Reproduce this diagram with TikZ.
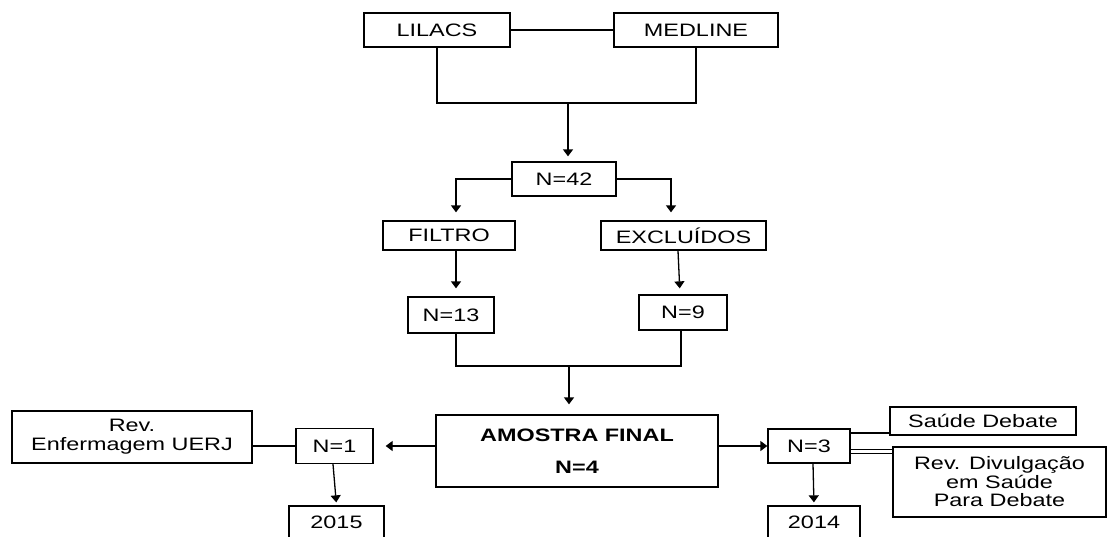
\documentclass[tikz,border=0pt]{standalone}
\usepackage{fontspec}
\setmainfont[FakeStretch=1.3]{Liberation Sans}
\usetikzlibrary{arrows.meta}
\begin{document}
\begin{tikzpicture}[x=1pt,y=-1pt,
  box/.style={draw, line width=1.3pt, inner sep=0pt, align=center,
    font=\fontsize{18}{19}\selectfont},
  ln/.style={line width=1.3pt},
  arr/.style={line width=1.3pt, -{Triangle[width=10pt,length=7pt]}}]
\useasboundingbox (0,0) rectangle (1109,536);
\clip (0,0) rectangle (1109,536);
\fill[white] (0,0) rectangle (1109,536);
% nodes
\node[box, minimum width=146pt, minimum height=34pt] (lilacs) at (437,30) {LILACS};
\node[box, minimum width=164pt, minimum height=34pt] (medline) at (696,30) {MEDLINE};
\node[box, minimum width=104pt, minimum height=34pt] (n42) at (564,179) {N=42};
\node[box, minimum width=132pt, minimum height=29pt] (filtro) at (449,235.5) {FILTRO};
\node[box, minimum width=165pt, minimum height=29pt] (excl) at (683.5,235.5) {EXCLUÍDOS};
\node[box, minimum width=86pt, minimum height=36pt] (n13) at (451,315) {N=13};
\node[box, minimum width=88pt, minimum height=35pt] (n9) at (683,312.5) {N=9};
\node[box, minimum width=282pt, minimum height=72pt] (amostra) at (577,451)
  {\bfseries AMOSTRA FINAL\\[13pt]\bfseries N=4};
\node[box, minimum width=240pt, minimum height=52pt] (rev) at (132,437) {Rev.\\Enfermagem UERJ};
\node[box, minimum width=77pt, minimum height=35pt] (n1) at (334.5,446) {N=1};
\node[box, minimum width=95pt, minimum height=32pt] (y2015) at (336.5,522) {2015};
\node[box, minimum width=82pt, minimum height=34pt] (n3) at (809,446) {N=3};
\node[box, minimum width=186pt, minimum height=28pt] (saude) at (983,421) {Saúde Debate};
\node[box, minimum width=213pt, minimum height=70pt, font=\fontsize{18}{18.5}\selectfont] (revdiv) at (999.5,482)
  {Rev. Divulgação\\em Saúde\\Para Debate};
\node[box, minimum width=92pt, minimum height=32pt] (y2014) at (814,522) {2014};
% helper coordinates
\coordinate (j1) at (568,103);
\coordinate (j2) at (569,366);
\coordinate (ys) at (0,433);
\coordinate (yd1) at (0,449.3);
\coordinate (yd2) at (0,453.3);
% connectors
\draw[ln] (lilacs.east) -- (medline.west);
\draw[ln] (lilacs.south) |- (j1) -| (medline.south);
\draw[arr, shorten >=5pt] (j1) -- (j1 |- n42.north);
\draw[arr, shorten >=8pt] (n42.west) -| ([xshift=7pt]filtro.north);
\draw[arr, shorten >=8pt] (n42.east) -| ([xshift=-12.5pt]excl.north);
\draw[arr, shorten >=8pt] ([xshift=7pt]filtro.south) -- ([xshift=5pt]n13.north);
\draw[arr, shorten >=6pt] ([xshift=-5.5pt]excl.south) -- ([xshift=-3pt]n9.north);
\draw[ln] ([xshift=5pt]n13.south) |- (j2) -| ([xshift=-2pt]n9.south);
\draw[arr, shorten >=10pt] (j2) -- (j2 |- amostra.north);
\draw[arr, shorten >=12pt] (amostra.west |- n1) -- (n1.east);
\draw[ln] (n1.west) -- (n1.west -| rev.east);
\draw[arr, shorten >=3pt] ([xshift=-1.5pt]n1.south) -- (y2015.north);
\draw[arr] (amostra.east |- n3) -- (n3.west);
\draw[ln] (n3.east |- ys) -- (saude.west |- ys);
\draw[line width=0.9pt] (n3.east |- yd1) -- (revdiv.west |- yd1);
\draw[line width=0.9pt] (n3.east |- yd2) -- (revdiv.west |- yd2);
\draw[arr, shorten >=3pt] ([xshift=4pt]n3.south) -- (y2014.north);
\end{tikzpicture}
\end{document}
